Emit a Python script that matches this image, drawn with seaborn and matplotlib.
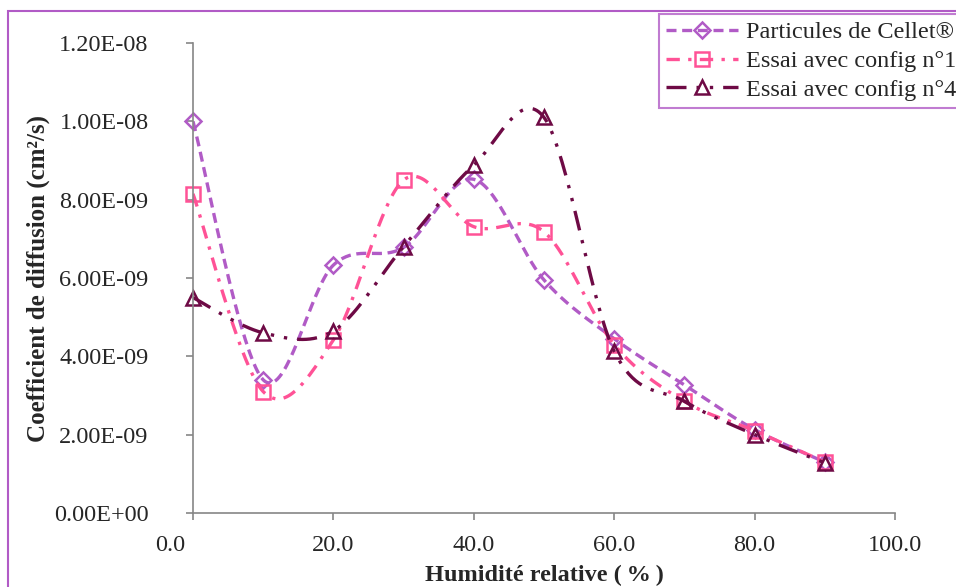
import numpy as np
import pandas as pd
import seaborn as sns
import matplotlib.pyplot as plt
from matplotlib.lines import Line2D
from matplotlib.patches import Rectangle
from matplotlib.ticker import FuncFormatter
from matplotlib.transforms import ScaledTranslation

# humidite relative (%)
hr = [0, 10, 20, 30, 40, 50, 60, 70, 80, 90]

# coefficient de diffusion (cm2/s)
cellet = [1.00e-8, 3.40e-9, 6.33e-9, 6.78e-9, 8.52e-9, 5.95e-9, 4.45e-9, 3.27e-9, 2.13e-9, 1.30e-9]
config1 = [8.15e-9, 3.10e-9, 4.42e-9, 8.50e-9, 7.31e-9, 7.18e-9, 4.30e-9, 2.85e-9, 2.10e-9, 1.30e-9]
config4 = [5.50e-9, 4.60e-9, 4.65e-9, 6.80e-9, 8.88e-9, 1.01e-8, 4.13e-9, 2.85e-9, 2.00e-9, 1.28e-9]

labels = ['Particules de Cellet®', 'Essai avec config n°1', 'Essai avec config n°4']
colors = ['#B15BC6', '#FF5296', '#6E0A45']
markers = ['D', 's', '^']
dashes = [(3.0, 1.7), (4, 2.5, 1, 2.5), (6, 3, 1, 3, 1, 3)]

xticks = [0, 20, 40, 60, 80, 100]
yticks = [0, 2e-9, 4e-9, 6e-9, 8e-9, 1e-8, 1.2e-8]


def smooth(x, y, n=40):
    # bezier "courbe lissee" like excel (catmull-rom control points)
    x = np.asarray(x, float)
    y = np.asarray(y, float)
    px = np.concatenate([[x[0]], x, [x[-1]]])
    py = np.concatenate([[y[0]], y, [y[-1]]])
    xs, ys = [], []
    t = np.linspace(0, 1, n)
    for i in range(1, len(px) - 2):
        p0 = np.array([px[i], py[i]])
        p3 = np.array([px[i + 1], py[i + 1]])
        p1 = p0 + (np.array([px[i + 1], py[i + 1]]) - np.array([px[i - 1], py[i - 1]])) / 6
        p2 = p3 - (np.array([px[i + 2], py[i + 2]]) - np.array([px[i], py[i]])) / 6
        b = ((1 - t) ** 3)[:, None] * p0 + (3 * (1 - t) ** 2 * t)[:, None] * p1 \
            + (3 * (1 - t) * t ** 2)[:, None] * p2 + (t ** 3)[:, None] * p3
        xs.extend(b[:, 0])
        ys.extend(b[:, 1])
    return xs, ys


sns.set_style('white')
plt.rcParams['font.family'] = ['Liberation Serif', 'DejaVu Serif']

fig = plt.figure(figsize=(9.56, 5.87), dpi=100)
ax = fig.add_axes([193 / 956, 1 - 513 / 587, (895 - 193) / 956, (513 - 43) / 587])

handles = []
for serie, lab, col, mk, ds in zip([cellet, config1, config4], labels, colors, markers, dashes):
    sx, sy = smooth(hr, serie)
    df = pd.DataFrame({'x': sx, 'y': sy})
    sns.lineplot(data=df, x='x', y='y', sort=False, estimator=None, ax=ax,
                 color=col, lw=2.4, dashes=False)
    ax.lines[-1].set_dashes(ds)
    ms = 8.5 if mk == 'D' else 10.5
    ax.plot(hr, serie, linestyle='none', marker=mk, ms=ms, mfc='none', mec=col, mew=1.8, clip_on=False)
    handles.append(Line2D([], [], color=col, lw=2.4, dashes=ds, marker=mk, ms=ms,
                          mfc='none', mec=col, mew=1.8))

ax.set_xlim(0, 100)
ax.set_ylim(0, 1.2e-8)
ax.set_xticks(xticks)
ax.set_yticks(yticks)
ax.xaxis.set_major_formatter(FuncFormatter(lambda v, p: f'{v:.1f}'))
ax.yaxis.set_major_formatter(FuncFormatter(lambda v, p: f'{v:.2E}'))
ax.tick_params(axis='both', direction='out', length=5, width=1.2, color='#868686',
               labelsize=17.5, bottom=True, left=True)
ax.tick_params(axis='x', pad=11)
ax.tick_params(axis='y', pad=27)
for s in ['top', 'right']:
    ax.spines[s].set_visible(False)
for s in ['left', 'bottom']:
    ax.spines[s].set_color('#868686')
    ax.spines[s].set_linewidth(1.2)

# excel pushes the "0.0" label left of the axis
t0 = ax.xaxis.get_major_ticks()[0]
t0.label1.set_transform(t0.label1.get_transform() + ScaledTranslation(-0.23, 0, fig.dpi_scale_trans))

ax.set_xlabel('Humidité relative (\u2009%\u2009)', fontsize=17.5, fontweight='bold', labelpad=6)
ax.set_ylabel('Coefficient de diffusion (cm²/s)', fontsize=18, fontweight='bold', labelpad=3)

leg = fig.legend(handles, labels, loc='upper left', bbox_to_anchor=(659 / 956, 1 - 14 / 587),
                 fontsize=17.5, frameon=True, fancybox=False, handlelength=2.95,
                 handletextpad=0.35, borderpad=0.3, labelspacing=0.28, borderaxespad=0)
leg.get_frame().set_edgecolor('#B15BC6')
leg.get_frame().set_linewidth(1.5)

# chart area border (cut by the image on the right and bottom)
fig.patches.append(Rectangle((8 / 956, -0.2), 1.2, 1.2 - 11 / 587, transform=fig.transFigure,
                             fill=False, ec='#B15BC6', lw=1.5))

fig.savefig('out.png', dpi=100)
